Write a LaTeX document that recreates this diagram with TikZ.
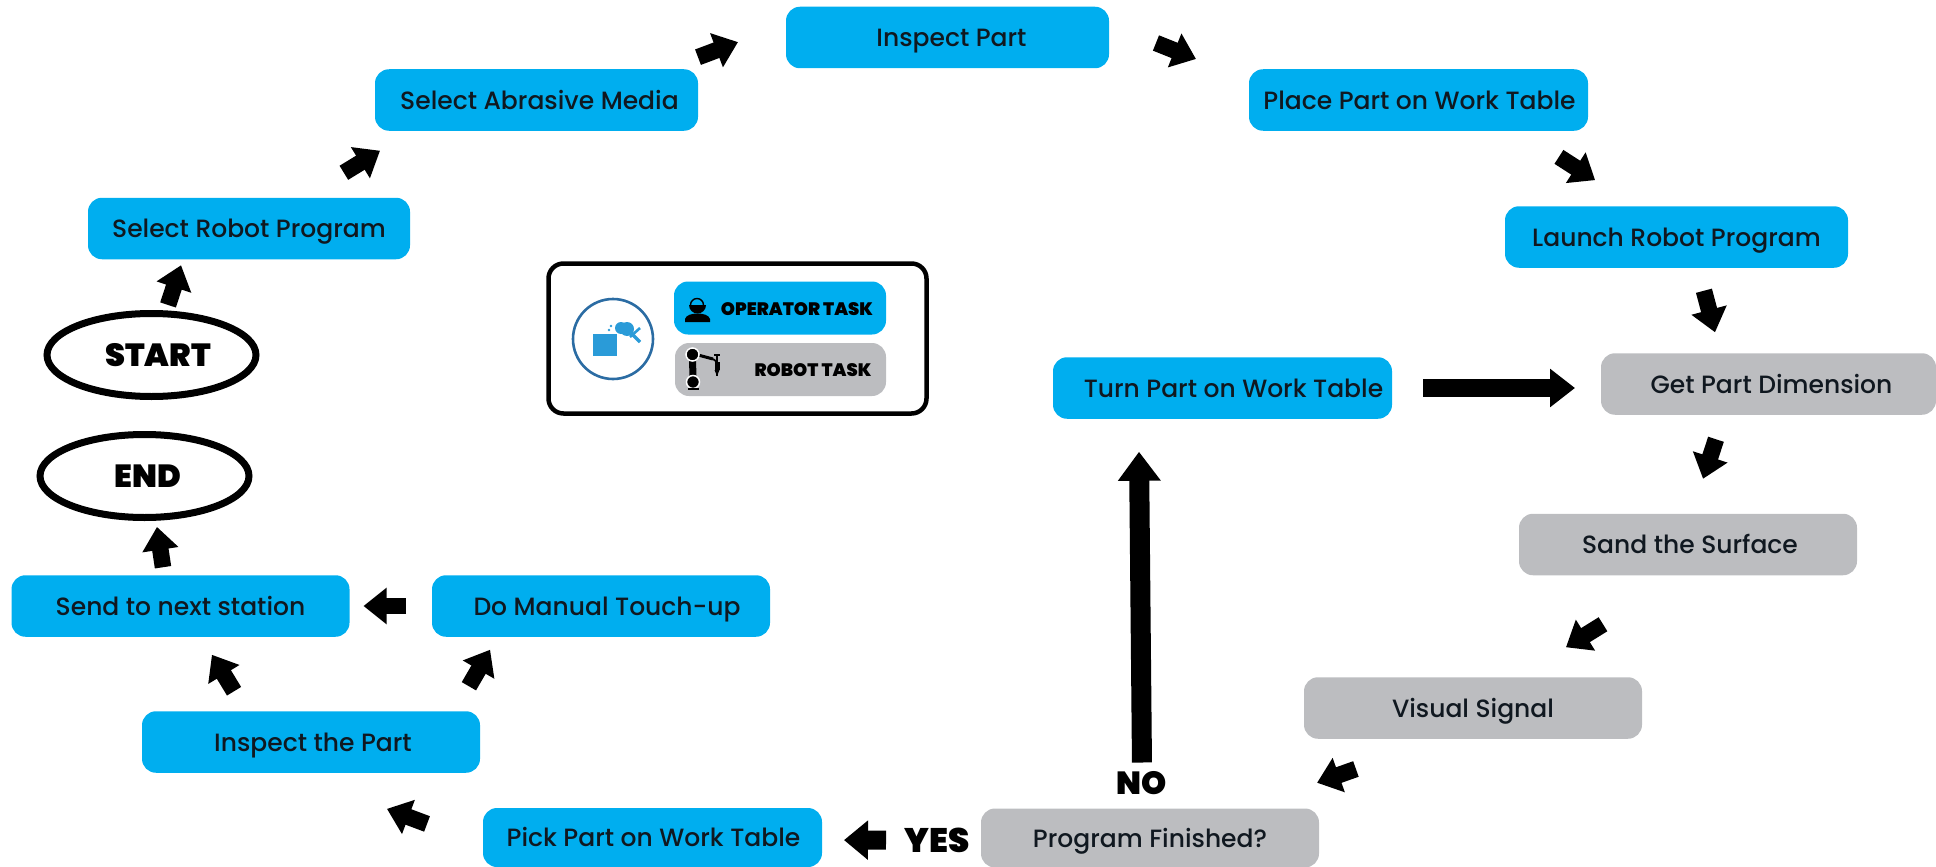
\documentclass[tikz,border=0pt]{standalone}
\usepackage{fontspec}
\usetikzlibrary{arrows.meta,shapes.geometric}
\setmainfont{Poppins}[UprightFont=* Medium,BoldFont=* Black]
\definecolor{opblue}{HTML}{00AEEF}
\definecolor{robgray}{HTML}{BCBDC0}
\definecolor{ink}{HTML}{101820}
\definecolor{ringblue}{HTML}{2B6CA3}
\definecolor{iconblue}{HTML}{2A9BD8}
\tikzset{
  taskbox/.style={rectangle,rounded corners=14pt,minimum width=338pt,minimum height=61.5pt,inner sep=0pt,outer sep=0pt,text=ink,text height=18pt,text depth=0pt,font=\fontsize{25}{28}\selectfont},
  opbox/.style={taskbox,fill=opblue},
  robbox/.style={taskbox,fill=robgray},
  terminal/.style={ellipse,draw=black,line width=7pt,fill=white,minimum width=209pt,minimum height=83pt,inner sep=0pt,text height=22pt,text depth=0pt,font=\bfseries\fontsize{32}{34}\selectfont},
  flowlabel/.style={inner sep=0pt,text height=22pt,text depth=0pt,font=\bfseries\fontsize{32}{34}\selectfont},
  legendlabel/.style={inner sep=0pt,text height=12.5pt,text depth=0pt,font=\bfseries\fontsize{18}{20}\selectfont},
  blk/.style={draw=black,line width=16.5pt,-{Triangle[length=23pt,width=35pt]}},
  wideblk/.style={draw=black,line width=18.5pt,-{Triangle[length=25pt,width=37pt]}},
  tallblk/.style={draw=black,line width=20pt,-{Triangle[length=29pt,width=41pt]}},
}
\begin{document}
\begin{tikzpicture}[x=1pt,y=-1pt]
\useasboundingbox (0,0) rectangle (1936,867);
% legend
\node[draw=black,line width=4.5pt,rounded corners=15pt,minimum width=378pt,minimum height=150pt,inner sep=0pt] (legend) at (737.5,338.5) {};
\node[rectangle,rounded corners=14pt,fill=opblue,minimum width=212pt,minimum height=53pt,inner sep=0pt] (legop) at (780,308) {};
\node[rectangle,rounded corners=14pt,fill=robgray,minimum width=211pt,minimum height=53pt,inner sep=0pt] (legrob) at (780.5,369.5) {};
\node[legendlabel] (legoptext) at (797,309) {OPERATOR TASK};
\node[legendlabel] (legrobtext) at (813,370) {ROBOT TASK};
% legend icon: abrasive tool on a part
\draw[ringblue,line width=2.6pt] (613,339) circle (40);
\fill[iconblue] (593,334) rectangle (617,356);
\fill[iconblue] (621,328) circle (6) (627,329) circle (7);
\draw[iconblue,line width=3.2pt] (628,330) -- (640,342);
\draw[iconblue,line width=2.6pt] (630,337) -- (640,328);
\fill[iconblue] (609,330) circle (1.3) (611,326) circle (1.3);
% legend icon: operator
\fill[black] (689,305) arc[start angle=180,end angle=0,radius=8.5] -- cycle;
\draw[black,line width=1.4pt] (690.5,305) arc[start angle=180,end angle=360,radius=6.5];
\fill[black] (685,322) -- (685,319) .. controls (686,315) and (692,313.5) .. (697.5,313.5) .. controls (703,313.5) and (709,315) .. (710,319) -- (710,322) -- cycle;
% legend icon: robot
\draw[black,line width=7pt] (692.5,355) -- (693,382);
\draw[black,line width=3pt] (698,355) -- (713,359);
\draw[black,line width=1.8pt] (713,359) -- (717,362);
\draw[black,line width=1.6pt] (717,355) -- (717,376) (714,355) -- (720,355);
\fill[black] (714.5,362) rectangle (719.5,370);
\fill[black] (714.5,370) -- (719.5,370) -- (717,376) -- cycle;
\draw[white,fill=black,line width=1.5pt] (692.5,354.5) circle (6.5);
\draw[white,fill=black,line width=1.5pt] (693,382) circle (6.5);
\draw[black,line width=1.2pt] (688,389) -- (699,389);
% flow nodes
\node[opbox,minimum width=323pt] (inspect) at (947.5,37.5) {\hspace*{8pt}Inspect Part};
\node[opbox,minimum width=323pt] (abrasive) at (536.5,100) {\hspace*{6pt}Select Abrasive Media};
\node[opbox,minimum width=339pt] (place) at (1418.5,100) {\hspace*{2pt}Place Part on Work Table};
\node[opbox,minimum width=343pt] (launch) at (1676.5,237) {Launch Robot Program};
\node[opbox,minimum width=322pt] (robot) at (249,228.5) {Select Robot Program};
\node[robbox,minimum width=335pt] (getdim) at (1768.5,384) {\hspace*{6pt}Get Part Dimension};
\node[opbox,minimum width=339pt] (turn) at (1222.5,388) {\hspace*{22pt}Turn Part on Work Table};
\node[robbox,minimum width=338pt] (sand) at (1688,544.5) {\hspace*{4pt}Sand the Surface};
\node[robbox,minimum width=338pt] (visual) at (1473,708) {Visual Signal};
\node[robbox,minimum width=338pt,minimum height=59pt] (program) at (1150,838) {Program Finished?};
\node[opbox,minimum width=339pt,minimum height=59pt] (pick) at (652.5,837.5) {\hspace*{2pt}Pick Part on Work Table};
\node[opbox] (part) at (311,742) {\hspace*{4pt}Inspect the Part};
\node[opbox] (send) at (180.5,606) {Send to next station};
\node[opbox] (manual) at (601,606) {\hspace*{12pt}Do Manual Touch-up};
\node[terminal] (start) at (151.5,355) {\hspace*{13pt}START};
\node[terminal] (end) at (144.5,476) {\hspace*{7pt}END};
\node[flowlabel] (no) at (1142,783) {NO};
\node[flowlabel,font=\bfseries\fontsize{34}{36}\selectfont] (yes) at (937,841) {YES};
% connectors
\draw[blk,shorten <=5.3pt,shorten >=6.3pt] ([xshift=14.9pt]start.north) -- ([xshift=-66pt]robot.south);
\draw[blk,shorten <=47.9pt,shorten >=38.3pt] ([xshift=54pt]robot.north) -- ([xshift=-123.8pt]abrasive.south);
\draw[blk,shorten <=34.2pt,shorten >=51.3pt] ([xshift=129.5pt]abrasive.north) -- ([yshift=13.5pt]inspect.west);
\draw[blk,shorten <=50.6pt,shorten >=57.1pt] ([yshift=13.3pt]inspect.east) -- ([yshift=19.8pt]place.west);
\draw[blk,shorten <=48.3pt,shorten >=48.3pt] ([xshift=99.8pt]place.south) -- ([xshift=-40.8pt]launch.north);
\draw[blk,shorten <=23.8pt,shorten >=21.7pt] ([xshift=21.3pt]launch.south) -- ([xshift=-47.9pt]getdim.north);
\draw[blk,shorten <=25.8pt,shorten >=36.8pt] ([xshift=-44.5pt]getdim.south) -- ([xshift=3.6pt]sand.north);
\draw[wideblk,shorten <=31pt,shorten >=26pt] (turn.east) -- (turn.east -| getdim.west);
\draw[blk,shorten <=92.8pt,shorten >=56.8pt] ([xshift=-6.2pt]sand.south) -- ([xshift=44.7pt]visual.north);
\draw[blk,shorten <=90.3pt,shorten >=76.9pt] ([xshift=-32pt]visual.south) -- ([xshift=94.6pt]program.north);
\draw[tallblk,shorten <=46pt,shorten >=33pt] ([xshift=-7.6pt]program.north) -- ([xshift=-83.8pt]turn.south);
\draw[blk,line width=19pt,-{Triangle[length=24pt,width=38pt]},shorten <=95pt,shorten >=22pt] ([yshift=-2.5pt]program.west) -- ([yshift=-2.5pt]pick.east);
\draw[blk,shorten <=59.8pt,shorten >=102.5pt] ([yshift=-7.5pt]pick.west) -- ([xshift=-20pt]part.south);
\draw[blk,shorten <=23.4pt,shorten >=21.1pt] ([xshift=-64.8pt]part.north) -- ([xshift=20.5pt]send.south);
\draw[blk,shorten <=28.9pt,shorten >=15pt] ([xshift=143.4pt]part.north) -- ([xshift=-103.4pt]manual.south);
\draw[blk,shorten <=26pt,shorten >=14pt] (manual.west) -- (send.east);
\draw[blk,shorten <=8.1pt,shorten >=6pt] ([xshift=-16.3pt]send.north) -- ([xshift=11.6pt]end.south);
\end{tikzpicture}
\end{document}
